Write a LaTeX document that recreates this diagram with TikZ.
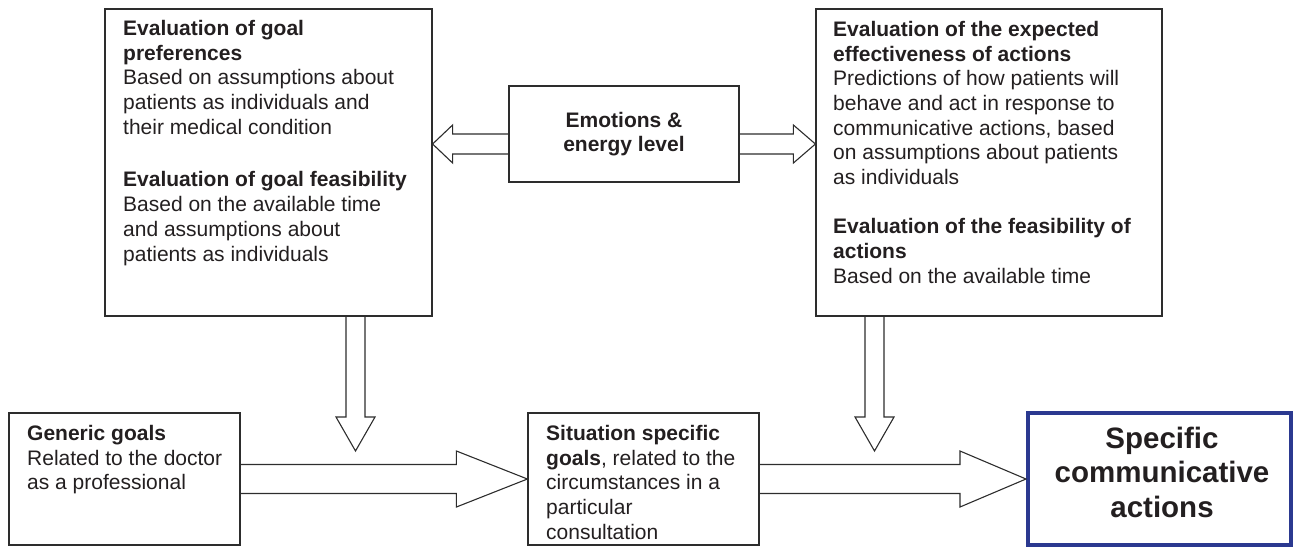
\documentclass[tikz,border=0pt]{standalone}
\usepackage{fontspec}
\setmainfont{Liberation Sans}
\usetikzlibrary{calc}
\definecolor{ink}{RGB}{35,31,32}
\definecolor{boxline}{RGB}{45,45,45}
\definecolor{specblue}{RGB}{43,57,144}
\tikzset{
  boxnode/.style={draw=boxline, line width=1.2pt, rectangle, inner sep=0pt},
  txt/.style={font=\fontsize{21}{24.7}\selectfont, text=ink, inner sep=0pt, align=left, anchor=north west},
  blockarrow/.style={draw=boxline, line width=1.1pt, line join=miter},
}
\newcommand{\blockarrow}[5]{% start, end, half shaft, half head, head length
  \coordinate (bh) at ($(#2)!#5!(#1)$);
  \draw[blockarrow] ($(#1)!#3!90:(#2)$) -- ($(bh)!#3!90:(#2)$) -- ($(bh)!#4!90:(#2)$) -- (#2)
     -- ($(bh)!#4!-90:(#2)$) -- ($(bh)!#3!-90:(#2)$) -- ($(#1)!#3!-90:(#2)$);
}
\begin{document}
\begin{tikzpicture}[x=1pt,y=-1pt]
\useasboundingbox (0,0) rectangle (1297,547);
% boxes
\node[boxnode, minimum width=327pt, minimum height=307pt] (tl) at (268.5,162.5) {};
\node[boxnode, minimum width=230pt, minimum height=96pt, align=center,
      font=\fontsize{21}{24.7}\selectfont\bfseries, text=ink] (emo) at (624,134) {Emotions \&\\energy level};
\node[boxnode, minimum width=346pt, minimum height=307pt] (tr) at (989,162.5) {};
\node[boxnode, minimum width=231pt, minimum height=132pt] (gen) at (124.5,479) {};
\node[boxnode, minimum width=231pt, minimum height=132pt] (sit) at (643.5,479) {};
\node[draw=specblue, line width=4pt, rectangle, inner sep=0pt, minimum width=263pt, minimum height=132pt] (spec) at (1159.5,479) {};
% texts
\node[txt] (tltxt) at (123,20) {\textbf{Evaluation of goal}\\\textbf{preferences}\\Based on assumptions about\\patients as individuals and\\their medical condition\\[28pt]\textbf{Evaluation of goal feasibility}\\Based on the available time\\and assumptions about\\patients as individuals};
\node[txt] (trtxt) at (833,21) {\textbf{Evaluation of the expected}\\\textbf{effectiveness of actions}\\Predictions of how patients will\\behave and act in response to\\communicative actions, based\\on assumptions about patients\\as individuals\\[24.3pt]\textbf{Evaluation of the feasibility of}\\\textbf{actions}\\Based on the available time};
\node[txt] (gentxt) at (27,425) {\textbf{Generic goals}\\Related to the doctor\\as a professional};
\node[txt] (sittxt) at (546,425) {\textbf{Situation specific}\\\textbf{goals}, related to the\\circumstances in a\\particular\\consultation};
\node[font=\fontsize{29.5}{34.5}\selectfont\bfseries, text=ink, align=center, inner sep=0pt] (spectxt) at (1162,472) {Specific\\communicative\\actions};
% arrow end points
\coordinate (a1s) at (emo.west |- 0,144);
\coordinate (a1e) at (tl.east |- 0,144);
\coordinate (a2s) at (emo.east |- 0,144);
\coordinate (a2e) at (tr.west |- 0,144);
\coordinate (a3s) at (355.5,0 |- tl.south);
\coordinate (a3e) at (355.5,451);
\coordinate (a4s) at (874.5,0 |- tr.south);
\coordinate (a4e) at (874.5,451);
% arrows
\blockarrow{a1s}{a1e}{10pt}{19pt}{20pt}
\blockarrow{a2s}{a2e}{10pt}{19pt}{22pt}
\blockarrow{a3s}{a3e}{9.5pt}{19.5pt}{34pt}
\blockarrow{a4s}{a4e}{9.5pt}{19.5pt}{34pt}
\blockarrow{gen.east}{sit.west}{14.5pt}{28pt}{71pt}
\blockarrow{sit.east}{spec.west}{14.5pt}{28pt}{66pt}
\end{tikzpicture}
\end{document}
